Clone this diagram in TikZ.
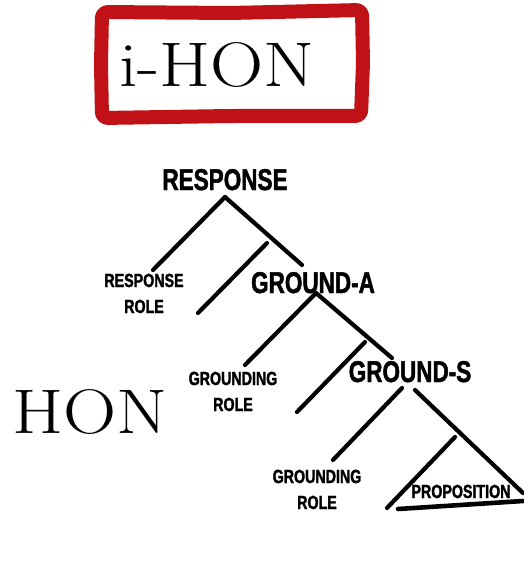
\documentclass[tikz,border=0pt]{standalone}
\usepackage{fontspec}
\newfontfamily\treefont[FakeStretch=0.75,FakeBold=1.6]{Liberation Sans}
\newfontfamily\titlefont[FakeStretch=1.17]{Latin Modern Roman}
\definecolor{boxred}{RGB}{192,18,22}
\begin{document}
\begin{tikzpicture}[x=1pt,y=-1pt,
  big/.style={font=\treefont\bfseries\fontsize{30}{30}\selectfont, inner sep=0, anchor=base},
  small/.style={font=\treefont\bfseries\fontsize{19}{26}\selectfont, inner sep=0, align=center, anchor=base},
  branch/.style={line width=4.2pt, line cap=round},
  title/.style={font=\titlefont\fontsize{63}{63}\selectfont, inner sep=0, anchor=base}]
\useasboundingbox[fill=white] (0,0) rectangle (523,577);

% red hand-drawn frame
\draw[boxred, line width=14pt, line join=round, rounded corners=6pt]
  (102,12) -- (230,13) -- (362,10) -- (363,63) -- (361,116) -- (230,116) -- (102,118) -- (101,65) -- cycle;
\node[title] (ihon) at (217,87) {i-HON};
\node[title] (hon) at (90,433) {HON};

% tree labels (anchor base = baseline of last line)
\node[big] (resp) at (225,190) {RESPONSE};
\node[small] (rrole) at (144,313) {RESPONSE\\ROLE};
\node[big] (gra) at (313,293) {GROUND-A};
\node[small] (grole1) at (233,411) {GROUNDING\\ROLE};
\node[big] (grs) at (410,382) {GROUND-S};
\node[small] (grole2) at (317,509) {GROUNDING\\ROLE};
\node[small] (prop) at (461,498) {PROPOSITION};

% branch end points
\coordinate (r0) at (225,197);
\coordinate (r1) at (153,270);
\coordinate (r2) at (302,265);
\coordinate (t1a) at (267,243);
\coordinate (t1b) at (198,313);
\coordinate (a0) at (316,293);
\coordinate (a1) at (245,365);
\coordinate (a2) at (392,358);
\coordinate (t2a) at (365,342);
\coordinate (t2b) at (297,412);
\coordinate (s1top) at (402,388);
\coordinate (s1) at (333,460);
\coordinate (s2top) at (415,390);
\coordinate (s2) at (523,493);
\coordinate (t3a) at (455,437);
\coordinate (t3b) at (387,508);
\coordinate (b1) at (398,509);
\coordinate (b2) at (523,501);

\draw[branch] (r0) -- (r1);
\draw[branch] (r0) -- (r2);
\draw[branch] (t1a) -- (t1b);
\draw[branch] (a0) -- (a1);
\draw[branch] (a0) -- (a2);
\draw[branch] (t2a) -- (t2b);
\draw[branch] (s1top) -- (s1);
\draw[branch] (s2top) -- (s2);
\draw[branch] (t3a) -- (t3b);
\draw[branch, line width=4.6pt] (b1) -- (b2);
\end{tikzpicture}
\end{document}
